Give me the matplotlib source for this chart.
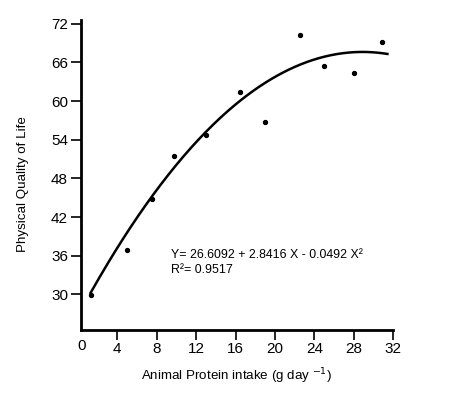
import matplotlib.pyplot as plt
import numpy as np

plt.rcParams['font.family'] = ['Liberation Sans', 'DejaVu Sans']

protein = [1.3, 4.95, 7.5, 9.75, 13.0, 16.5, 19.0, 22.5, 25.0, 28.0, 30.9]
pql = [29.9, 36.9, 44.8, 51.5, 54.7, 61.4, 56.7, 70.3, 65.5, 64.4, 69.2]

# fitted quadratic as printed on the chart
coef = [26.6092, 2.8416, -0.0492]
fit_range = (1.3, 31.4)

x_ticks = [0, 4, 8, 12, 16, 20, 24, 28, 32]
y_ticks = [30, 36, 42, 48, 54, 60, 66, 72]

fig = plt.figure(figsize=(4.5, 3.96), dpi=100)
ax = fig.add_axes([0.179, 0.1667, 0.695, 0.7828])

xs = np.linspace(fit_range[0], fit_range[1], 200)
ys = coef[0] + coef[1] * xs + coef[2] * xs ** 2
ax.plot(xs, ys, color='black', lw=1.8)
ax.scatter(protein, pql, s=8, color='black', zorder=3)

ax.set_xlim(0.28, 32)
ax.set_ylim(24.45, 72.6)
ax.set_xticks(x_ticks[1:])
ax.set_yticks(y_ticks)
ax.tick_params(direction='out', length=7, width=1.2, labelsize=11, pad=2)
# the zero label sits at the corner with no tick
ax.text(0.4, -0.03, '0', transform=ax.get_xaxis_transform(), ha='center', va='top', fontsize=11)

for side in ['top', 'right']:
    ax.spines[side].set_visible(False)
for side in ['left', 'bottom']:
    ax.spines[side].set_linewidth(2)

ax.set_xlabel('Animal Protein intake (g day $^{-1}$)', fontsize=9.6, labelpad=7)
ax.set_ylabel('Physical Quality of Life', fontsize=9.6)
ax.yaxis.set_label_coords(-0.165, 0.47)

ax.text(9.5, 36.1, 'Y= 26.6092 + 2.8416 X - 0.0492 X²', fontsize=8.9, va='center')
ax.text(9.5, 33.8, 'R²= 0.9517', fontsize=8.9, va='center')

plt.savefig('out.png', dpi=100)
